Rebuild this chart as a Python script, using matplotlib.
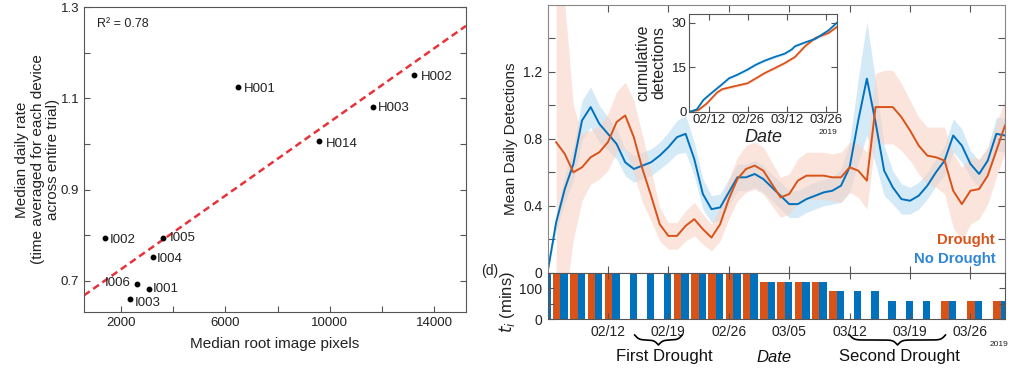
# root pixels vs detection rate, plus drought / no-drought detection time series

import matplotlib
matplotlib.use("Agg")
import matplotlib.pyplot as plt
import matplotlib.dates as mdates
import numpy as np

plt.rcParams['font.family'] = ['Liberation Sans', 'DejaVu Sans']

# left panel data
devices = ["H001", "H002", "H003", "H014", "I002", "I005", "I004", "I006", "I001", "I003"]
root_pixels = [6490, 13250, 11650, 9600, 1400, 3610, 3220, 2600, 3060, 2330]
daily_rate = [1.125, 1.150, 1.082, 1.006, 0.795, 0.793, 0.752, 0.694, 0.682, 0.660]
fit_slope = 4.03e-5
fit_intercept = 0.645
r_squared = 0.78

# right panel: daily means, blue from 02/05, red from 02/06
blue_mean = [0.00, 0.30, 0.50, 0.65, 0.91, 0.99, 0.89, 0.83, 0.77, 0.66,
             0.62, 0.64, 0.66, 0.70, 0.75, 0.81, 0.83, 0.68, 0.47, 0.38,
             0.39, 0.48, 0.57, 0.57, 0.59, 0.56, 0.51, 0.46, 0.41, 0.41,
             0.44, 0.46, 0.48, 0.49, 0.52, 0.63, 0.91, 1.16, 0.90, 0.61,
             0.51, 0.44, 0.43, 0.46, 0.52, 0.60, 0.67, 0.82, 0.76, 0.65,
             0.59, 0.67, 0.83, 0.82]
blue_err = [0.00, 0.05, 0.08, 0.10, 0.12, 0.12, 0.11, 0.10, 0.09, 0.08,
            0.08, 0.08, 0.08, 0.08, 0.09, 0.10, 0.11, 0.10, 0.09, 0.08,
            0.08, 0.08, 0.08, 0.08, 0.08, 0.08, 0.08, 0.08, 0.08, 0.08,
            0.08, 0.08, 0.08, 0.08, 0.10, 0.15, 0.25, 0.34, 0.25, 0.15,
            0.10, 0.09, 0.08, 0.08, 0.08, 0.08, 0.09, 0.10, 0.10, 0.08,
            0.08, 0.08, 0.10, 0.10]
red_mean = [0.78, 0.71, 0.60, 0.63, 0.69, 0.72, 0.78, 0.90, 0.94, 0.81,
            0.62, 0.46, 0.29, 0.22, 0.22, 0.28, 0.32, 0.26, 0.21, 0.29,
            0.44, 0.56, 0.62, 0.64, 0.61, 0.53, 0.45, 0.47, 0.55, 0.58,
            0.58, 0.58, 0.57, 0.57, 0.63, 0.61, 0.55, 0.99, 0.99, 0.99,
            0.93, 0.85, 0.76, 0.70, 0.69, 0.67, 0.49, 0.41, 0.49, 0.50,
            0.58, 0.73, 0.88]
red_err = [0.95, 0.90, 0.40, 0.20, 0.16, 0.16, 0.17, 0.18, 0.20, 0.22,
           0.20, 0.15, 0.10, 0.08, 0.08, 0.09, 0.10, 0.09, 0.08, 0.10,
           0.12, 0.13, 0.14, 0.14, 0.14, 0.13, 0.12, 0.12, 0.13, 0.14,
           0.14, 0.14, 0.14, 0.15, 0.15, 0.16, 0.17, 0.20, 0.22, 0.22,
           0.20, 0.18, 0.17, 0.17, 0.18, 0.20, 0.22, 0.22, 0.20, 0.18,
           0.17, 0.16, 0.16]

# inset: cumulative detections (day offset from 02/05, value)
cum_blue_day = [0.25, 2.7, 5.1, 8.2, 11.2, 14.3, 17.3, 20.9, 24.0, 27.0, 30.7, 34.3, 36.8, 38.0, 41.6, 45.3, 50.1, 53.0]
cum_blue = [0, 0.8, 4.0, 6.5, 8.8, 11.3, 12.5, 14.2, 15.9, 17.2, 18.5, 19.6, 21.0, 22.1, 23.4, 24.6, 27.5, 30.0]
cum_red_day = [0.25, 3.3, 6.3, 10.0, 11.8, 14.9, 18.5, 20.9, 24.0, 27.0, 30.7, 34.3, 38.0, 41.6, 45.3, 50.1, 53.0]
cum_red = [0, 0.6, 2.8, 6.5, 7.6, 8.3, 9.1, 9.6, 11.3, 13.0, 14.7, 16.4, 18.5, 22.1, 24.9, 26.6, 28.6]

# bottom panel: interval t_i (mins), grouped every 2-3 days (day offset from 02/05)
bar_day = [-0.5, 1.5, 3.5, 5.5, 7.5, 9.5, 11.5, 13.5, 15.5, 17.5, 19.5, 21.5, 23.5,
           25.5, 27.5, 29.5, 31.5, 33.5, 35.5, 37.5, 39.5, 41.5, 43.5, 46.5, 49.5, 52.5]
red_ti = [np.nan, 150, 150, 150, 150, np.nan, np.nan, np.nan, 150, 150, 150, 150, 150,
          120, 120, 120, 120, 90, np.nan, np.nan, np.nan, np.nan, np.nan, 60, 60, 60]
blue_ti = [150, 150, 150, 150, 150, 150, 150, 150, 150, 150, 150, 150, 150,
           120, 120, 120, 120, 90, 90, 90, 60, 60, 60, 60, 60, 60]
date_ticks = ["2019-02-12", "2019-02-19", "2019-02-26", "2019-03-05", "2019-03-12", "2019-03-19", "2019-03-26"]
inset_ticks = ["2019-02-12", "2019-02-26", "2019-03-12", "2019-03-26"]
droughts = [("First Drought", 10.1, 15.6, 13.5), ("Second Drought", 35.0, 46.1, 40.8)]

RED = "#D95319"
BLUE = "#0072BD"
SPINE = "#555555"

fig = plt.figure(figsize=(10.22, 3.71), dpi=100)

# ---------- left scatter ----------
ax = fig.add_axes([84 / 1022, 1 - 312 / 371, 382 / 1022, 305 / 371])
ax.plot(root_pixels, daily_rate, "o", color="black", markersize=3.2, zorder=3)
xl = np.array([581, 15227])
ax.plot(xl, fit_intercept + fit_slope * xl, "--", color="#e8323a", lw=1.8, dashes=(2.8, 1.7))
offsets = {"H001": (3.8, -1.4), "H002": (4.6, -1.2), "H003": (4, -1.2), "H014": (4.6, -1.7),
           "I002": (2.9, -1.9), "I005": (5, 0.7), "I004": (2.9, -1.2), "I006": (-4.3, 0.7),
           "I001": (2.6, 0), "I003": (3.8, -2.4)}
for name, xv, yv in zip(devices, root_pixels, daily_rate):
    dx, dy = offsets[name]
    ax.annotate(name, (xv, yv), xytext=(dx, dy), textcoords="offset points",
                ha="right" if dx < 0 else "left", va="center", fontsize=9.5, color="#222222")
ax.text(0.035, 0.945, "R² = %.2f" % r_squared, transform=ax.transAxes, fontsize=9, va="center", color="#222222")
ax.set_xlim(581, 15227)
ax.set_ylim(0.632, 1.30)
ax.set_xticks(np.arange(2000, 14001, 2000))
ax.set_xticklabels(["2000", "", "6000", "", "10000", "", "14000"])
ax.set_yticks([0.7, 0.8, 0.9, 1.0, 1.1, 1.2, 1.3])
ax.set_yticklabels(["0.7", "", "0.9", "", "1.1", "", "1.3"])
ax.tick_params(direction="in", length=4, labelsize=9.5, colors=SPINE, labelcolor="#222222", right=True)
for s in ax.spines.values():
    s.set_color(SPINE)
ax.set_xlabel("Median root image pixels", fontsize=11, labelpad=6, color="#222222")
ax.set_ylabel("Median daily rate\n(time averaged for each device\nacross entire trial)",
              fontsize=11, color="#222222", linespacing=1.15)
ax.yaxis.set_label_coords(-0.062, 0.5)

# ---------- right time series ----------
L, W = 547.5 / 1022, 457.5 / 1022
start = np.datetime64("2019-02-05")
x0 = mdates.date2num(start)
xlim = (x0, x0 + 53)
blue_x = x0 + np.arange(len(blue_mean))
red_x = x0 + 1 + np.arange(len(red_mean))
bm, be = np.array(blue_mean), np.array(blue_err)
rm, re = np.array(red_mean), np.array(red_err)

ts = fig.add_axes([L, 1 - 272.7 / 371, W, 267.7 / 371])
ts.fill_between(blue_x, bm - be, bm + be, color="#c4e2f4", alpha=0.7, lw=0)
ts.plot(blue_x, bm, color=BLUE, lw=1.4)
ts.fill_between(red_x, rm - re, rm + re, color="#f8cfc0", alpha=0.55, lw=0)
ts.plot(red_x, rm, color=RED, lw=1.4)
ts.set_xlim(xlim)
ts.set_ylim(0, 1.6)
ts.set_yticks([0.2, 0.4, 0.6, 0.8, 1.0, 1.2, 1.4])
ts.set_yticklabels(["", "0.4", "", "0.8", "", "1.2", ""])
tick_nums = [mdates.date2num(np.datetime64(d)) for d in date_ticks]
ts.set_xticks(tick_nums)
ts.set_xticklabels([])
ts.tick_params(direction="in", length=5, labelsize=10, colors=SPINE, labelcolor="#222222",
               right=True, top=True)
for s in ts.spines.values():
    s.set_color("#888888")
ts.set_ylabel("Mean Daily Detections", fontsize=11, color="#222222", labelpad=4)
ts.text(0.978, 0.122, "Drought", transform=ts.transAxes, ha="right", va="center",
        fontsize=10.7, fontweight="bold", color=RED)
ts.text(0.98, 0.053, "No Drought", transform=ts.transAxes, ha="right", va="center",
        fontsize=10.7, fontweight="bold", color="#2f86d6")

# ---------- inset cumulative ----------
ins = fig.add_axes([689.3 / 1022, 1 - 111.7 / 371, 147.4 / 1022, 97.7 / 371])
cbx = x0 + np.array(cum_blue_day)
crx = x0 + np.array(cum_red_day)
ins.fill_between(crx, np.array(cum_red) - 0.5, np.array(cum_red) + 0.5, color="#f8cfc0", alpha=0.6, lw=0)
ins.fill_between(cbx, np.array(cum_blue) - 0.5, np.array(cum_blue) + 0.5, color="#c4e2f4", alpha=0.6, lw=0)
ins.plot(crx, cum_red, color=RED, lw=1.3)
ins.plot(cbx, cum_blue, color=BLUE, lw=1.3)
ins.set_xlim(xlim)
ins.set_ylim(0, 33)
ins.set_yticks([0, 15, 30])
ins.set_xticks([mdates.date2num(np.datetime64(d)) for d in inset_ticks])
ins.set_xticklabels([d[5:].replace("-", "/") for d in inset_ticks])
ins.tick_params(direction="in", length=4, labelsize=9.5, colors=SPINE, labelcolor="#222222",
                right=True, top=True, pad=2)
for s in ins.spines.values():
    s.set_color(SPINE)
ins.set_ylabel("cumulative\ndetections", fontsize=11.5, color="#222222", labelpad=4, linespacing=1.05)
ins.set_xlabel("Date", fontsize=13, style="italic", color="#222222", labelpad=2)
fig.text(837 / 1022, 1 - 132 / 371, "2019", fontsize=6, ha="right", va="center", color="#222222")

# ---------- bars t_i ----------
bx = fig.add_axes([L, 1 - 319.3 / 371, W, 46.6 / 371])
gx = x0 + np.array(bar_day)
bx.bar(gx - 0.43, red_ti, width=0.86, color=RED, lw=0)
bx.bar(gx + 0.43, blue_ti, width=0.86, color=BLUE, lw=0)
bx.set_xlim(xlim)
bx.set_ylim(0, 150)
bx.set_yticks([0, 50, 100, 150])
bx.set_yticklabels(["0", "", "100", "0"])
bx.set_xticks(tick_nums)
bx.set_xticklabels([d[5:].replace("-", "/") for d in date_ticks])
bx.tick_params(direction="in", length=4, labelsize=10, colors=SPINE, labelcolor="#222222",
               right=True, top=True, pad=4)
for s in bx.spines.values():
    s.set_color(SPINE)
bx.set_ylabel("$t_i$ (mins)", fontsize=12, color="#222222")
bx.yaxis.set_label_coords(-0.066, 0.38)
fig.text(490 / 1022, 1 - 271 / 371, "(d)", fontsize=10, ha="center", va="center", color="#222222")
fig.text(1008 / 1022, 1 - 345 / 371, "2019", fontsize=6, ha="right", va="center", color="#222222")

# braces and labels under the date axis
ov = fig.add_axes([L, 0, W, 51.7 / 371], facecolor="none")
ov.set_xlim(xlim)
ov.set_ylim(0, 51.7)
ov.axis("off")
for label, d0, d1, dtext in droughts:
    xs = np.linspace(x0 + d0, x0 + d1, 401)
    half = xs[:201]
    beta = 4.0
    yh = 1 / (1 + np.exp(-beta * (half - half[0]))) + 1 / (1 + np.exp(-beta * (half - half[-1])))
    yb = np.concatenate((yh, yh[-2::-1]))
    ov.plot(xs, 36 - (yb - 0.5) * 10, color="black", lw=1.2)
    ov.text(x0 + dtext, 14, label, fontsize=12, ha="center", va="center", color="#111111")
ov.text(x0 + 26.3, 14, "Date", fontsize=12, style="italic", ha="center", va="center", color="#111111")

fig.savefig("out.png", dpi=100)
